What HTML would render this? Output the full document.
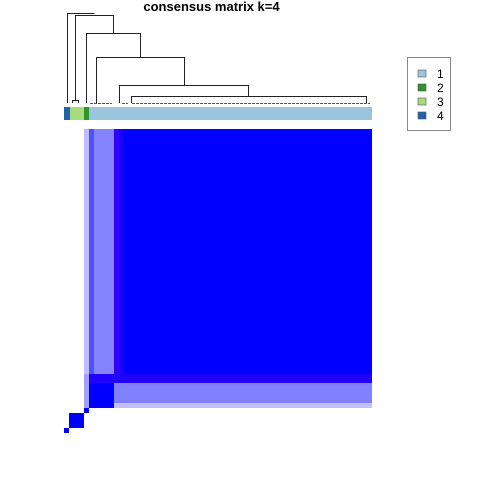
<!DOCTYPE html>
<html><head><style>
body{margin:0;width:480px;height:480px;background:#fff;overflow:hidden;position:relative;font-family:"Liberation Sans",sans-serif}
div{position:absolute}
.l{background:#222}
</style></head><body>
<div style="left:0;top:0;width:423px;text-align:center;font-weight:bold;font-size:13px;top:-1px">consensus matrix k=4</div>
<svg width="480" height="480" style="position:absolute;left:0;top:0">
<g stroke="#222" stroke-width="1" fill="none">
<path d="M67.5 103V13.5H94.5"/>
<path d="M75.5 101V15.5H113.5V33.5"/>
<path d="M72.5 103V100.5H78.5V103"/>
<path d="M86.5 103V33.5H140.5V57.5"/>
<path d="M96.5 103V57.5H184.5V85.5"/>
<path d="M119.5 103V85.5H248.5V96.5"/>
<path d="M131.5 103V96.5H366.5V103"/>
</g>
<path d="M90 103.5H112M122 103.5H128M132 103.5H370" stroke="#555" stroke-dasharray="3,1"/>
<rect x="64" y="107" width="6" height="13" fill="#1f63a8"/>
<rect x="70" y="107" width="14" height="13" fill="#a6dc7b"/>
<rect x="84" y="107" width="5" height="13" fill="#2e952e"/>
<rect x="89" y="107" width="283" height="13" fill="#9ac5dc"/>
<!-- heatmap -->
<rect x="84" y="129" width="288" height="279" fill="#0000ff"/>
<rect x="84" y="129" width="5" height="245" fill="#bcbcff"/>
<rect x="89" y="129" width="5" height="245" fill="#5050ff"/>
<rect x="94" y="129" width="20" height="245" fill="#8484ff"/>
<rect x="114" y="129" width="5" height="245" fill="#3300ff"/>
<rect x="119" y="129" width="5" height="245" fill="#1a00ff"/>
<rect x="89" y="374" width="283" height="9" fill="#2200ff"/>
<rect x="114" y="383" width="258" height="20" fill="#8080ff"/>
<rect x="114" y="403" width="258" height="5" fill="#c0c0ff"/>
<rect x="89" y="383" width="25" height="25" fill="#0000ff"/>
<rect x="84" y="374" width="5" height="34" fill="#a0a0ff"/>
<rect x="84" y="408" width="5" height="5" fill="#0000ff"/>
<rect x="69" y="413" width="15" height="15" fill="#0000ff"/>
<rect x="64" y="428" width="5" height="5" fill="#0000ff"/>
<!-- legend -->
<rect x="407.5" y="57.5" width="43" height="73" fill="none" stroke="#888"/>
<rect x="418" y="70" width="8" height="7" fill="#9ac5dc" stroke="#555" stroke-width=".6"/>
<rect x="418" y="84" width="8" height="7" fill="#2e952e" stroke="#555" stroke-width=".6"/>
<rect x="418" y="98" width="8" height="7" fill="#a6dc7b" stroke="#555" stroke-width=".6"/>
<rect x="418" y="112" width="8" height="7" fill="#1f63a8" stroke="#555" stroke-width=".6"/>
<g font-family="Liberation Sans,sans-serif" font-size="12" fill="#000">
<text x="437" y="78">1</text><text x="437" y="92">2</text><text x="437" y="106">3</text><text x="437" y="120">4</text>
</g>
</svg>
</body></html>
